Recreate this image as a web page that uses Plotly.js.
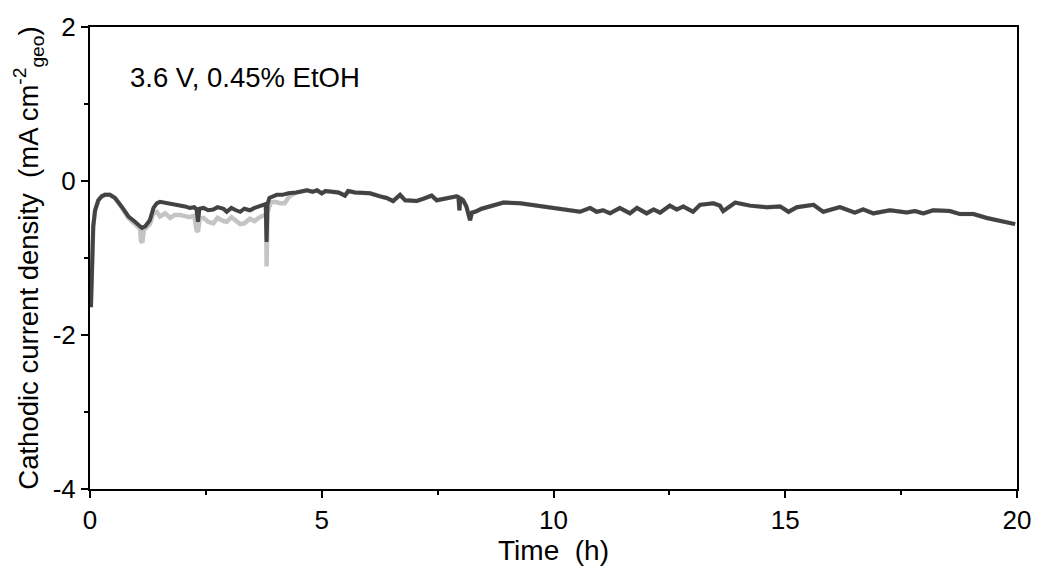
<!DOCTYPE html>
<html>
<head>
<meta charset="utf-8">
<script src="https://cdn.plot.ly/plotly-3.0.1.min.js"></script>
<style>html,body{margin:0;padding:0;background:#fff;}#chart{width:1038px;height:571px;}</style>
</head>
<body>
<div id="chart"></div>
<script>
// Dark trace (main measurement)
const darkTime = [0.02,0.04,0.05,0.07,0.11,0.18,0.25,0.32,0.43,0.54,0.68,0.83,0.97,1.12,1.19,1.29,1.37,1.44,1.51,1.62,1.73,1.83,1.94,2.05,2.15,2.25,2.30,2.33,2.36,2.45,2.55,2.66,2.75,2.88,2.95,3.05,3.15,3.24,3.33,3.45,3.55,3.66,3.72,3.79,3.81,3.83,3.87,3.95,4.03,4.15,4.28,4.45,4.55,4.68,4.80,4.90,5.00,5.08,5.22,5.36,5.50,5.57,5.72,5.90,6.04,6.26,6.40,6.54,6.69,6.80,7.05,7.20,7.37,7.48,7.70,7.91,7.95,7.97,7.99,8.05,8.12,8.16,8.20,8.24,8.31,8.45,8.63,8.92,9.28,9.64,10.00,10.20,10.36,10.57,10.79,10.93,11.07,11.22,11.43,11.65,11.80,12.01,12.16,12.30,12.51,12.66,12.80,13.01,13.16,13.38,13.45,13.59,13.66,13.92,14.24,14.60,14.89,15.07,15.25,15.61,15.82,16.18,16.50,16.68,16.90,17.26,17.62,17.80,17.98,18.19,18.55,18.77,19.06,19.35,19.63,19.96];
const darkVal = [-1.64,-1.30,-1.03,-0.59,-0.38,-0.25,-0.20,-0.18,-0.18,-0.22,-0.33,-0.46,-0.53,-0.61,-0.59,-0.51,-0.35,-0.29,-0.27,-0.28,-0.29,-0.31,-0.32,-0.33,-0.35,-0.34,-0.37,-0.53,-0.36,-0.35,-0.38,-0.37,-0.34,-0.36,-0.40,-0.35,-0.38,-0.40,-0.36,-0.38,-0.35,-0.33,-0.31,-0.30,-0.79,-0.30,-0.22,-0.20,-0.18,-0.18,-0.16,-0.15,-0.14,-0.12,-0.14,-0.12,-0.16,-0.13,-0.14,-0.15,-0.19,-0.13,-0.15,-0.15,-0.16,-0.20,-0.22,-0.26,-0.18,-0.25,-0.26,-0.23,-0.19,-0.25,-0.22,-0.20,-0.21,-0.38,-0.22,-0.25,-0.33,-0.44,-0.51,-0.41,-0.40,-0.36,-0.33,-0.28,-0.29,-0.32,-0.35,-0.37,-0.39,-0.40,-0.35,-0.40,-0.38,-0.42,-0.35,-0.42,-0.35,-0.42,-0.37,-0.41,-0.32,-0.37,-0.33,-0.40,-0.31,-0.30,-0.29,-0.32,-0.39,-0.28,-0.32,-0.34,-0.33,-0.40,-0.34,-0.31,-0.40,-0.34,-0.41,-0.37,-0.42,-0.38,-0.41,-0.39,-0.42,-0.38,-0.39,-0.43,-0.43,-0.48,-0.52,-0.56];

// Light trace (second measurement), early part where it differs
const lightTime = [0.02,0.04,0.05,0.07,0.11,0.18,0.25,0.32,0.43,0.54,0.68,0.83,0.97,1.08,1.10,1.13,1.16,1.29,1.37,1.44,1.51,1.62,1.73,1.83,1.94,2.05,2.15,2.25,2.30,2.33,2.37,2.45,2.55,2.66,2.75,2.88,2.95,3.05,3.15,3.24,3.33,3.45,3.55,3.66,3.75,3.80,3.81,3.83,3.90,4.00,4.10,4.20,4.30,4.40];
const lightVal = [-1.64,-1.30,-1.03,-0.59,-0.38,-0.25,-0.20,-0.18,-0.18,-0.22,-0.34,-0.48,-0.56,-0.62,-0.78,-0.80,-0.64,-0.56,-0.42,-0.40,-0.46,-0.42,-0.48,-0.44,-0.44,-0.45,-0.47,-0.45,-0.64,-0.66,-0.48,-0.48,-0.53,-0.55,-0.48,-0.52,-0.53,-0.47,-0.52,-0.56,-0.55,-0.49,-0.52,-0.47,-0.45,-0.44,-1.11,-0.40,-0.28,-0.27,-0.29,-0.29,-0.20,-0.16];

const xTickVals = [0,5,10,15,20];
const yTickVals = [-4,-2,0,2];
const annotationText = '3.6 V, 0.45% EtOH';
const xTitle = 'Time\u00a0\u00a0(h)';
const yTitle = 'Cathodic current density\u00a0\u00a0(mA cm<sup>-2</sup><sub>geo</sub>)';

// Light trace continues identically to the dark one after its early part
const lastLight = lightTime[lightTime.length - 1];
const lightX = lightTime.slice();
const lightY = lightVal.slice();
darkTime.forEach((t, i) => { if (t > lastLight) { lightX.push(t); lightY.push(darkVal[i]); } });

const FONT = 'Liberation Sans, Arial, sans-serif';

const traces = [
  {x: lightX, y: lightY, type: 'scatter', mode: 'lines', line: {color: '#c4c4c4', width: 4.5}, hoverinfo: 'skip'},
  {x: darkTime, y: darkVal, type: 'scatter', mode: 'lines', line: {color: '#434343', width: 4}, hoverinfo: 'skip'}
];

const layout = {
  width: 1038, height: 571,
  margin: {l: 90, r: 21, t: 27, b: 82},
  paper_bgcolor: '#fff', plot_bgcolor: '#fff',
  showlegend: false,
  font: {family: FONT, color: '#000', size: 26},
  xaxis: {
    range: [0, 20], tickvals: xTickVals, ticktext: xTickVals.map(String),
    showgrid: false, zeroline: false,
    showline: true, linecolor: '#000', linewidth: 2, mirror: true,
    ticks: 'outside', ticklen: 7, tickwidth: 2, tickcolor: '#000',
    minor: {dtick: 2.5, tick0: 0, ticks: 'outside', ticklen: 4, tickwidth: 2, tickcolor: '#000', showgrid: false},
    tickfont: {family: FONT, size: 26, color: '#000'},
    title: {text: xTitle, font: {family: FONT, size: 28, color: '#000'}, standoff: 4}
  },
  yaxis: {
    range: [-4, 2], tickvals: yTickVals, ticktext: yTickVals.map(String),
    showgrid: false, zeroline: false,
    showline: true, linecolor: '#000', linewidth: 2, mirror: true,
    ticks: 'outside', ticklen: 7, tickwidth: 2, tickcolor: '#000',
    minor: {dtick: 1, tick0: 0, ticks: 'outside', ticklen: 4, tickwidth: 2, tickcolor: '#000', showgrid: false},
    tickfont: {family: FONT, size: 26, color: '#000'},
    title: {text: yTitle, font: {family: FONT, size: 27.5, color: '#000'}, standoff: 6}
  },
  annotations: [{
    text: annotationText, xref: 'paper', yref: 'paper', x: 0.041, y: 0.89,
    xanchor: 'left', yanchor: 'middle', showarrow: false,
    font: {family: FONT, size: 27.5, color: '#000'}
  }]
};

Plotly.newPlot('chart', traces, layout, {displayModeBar: false, staticPlot: true});
</script>
</body>
</html>
